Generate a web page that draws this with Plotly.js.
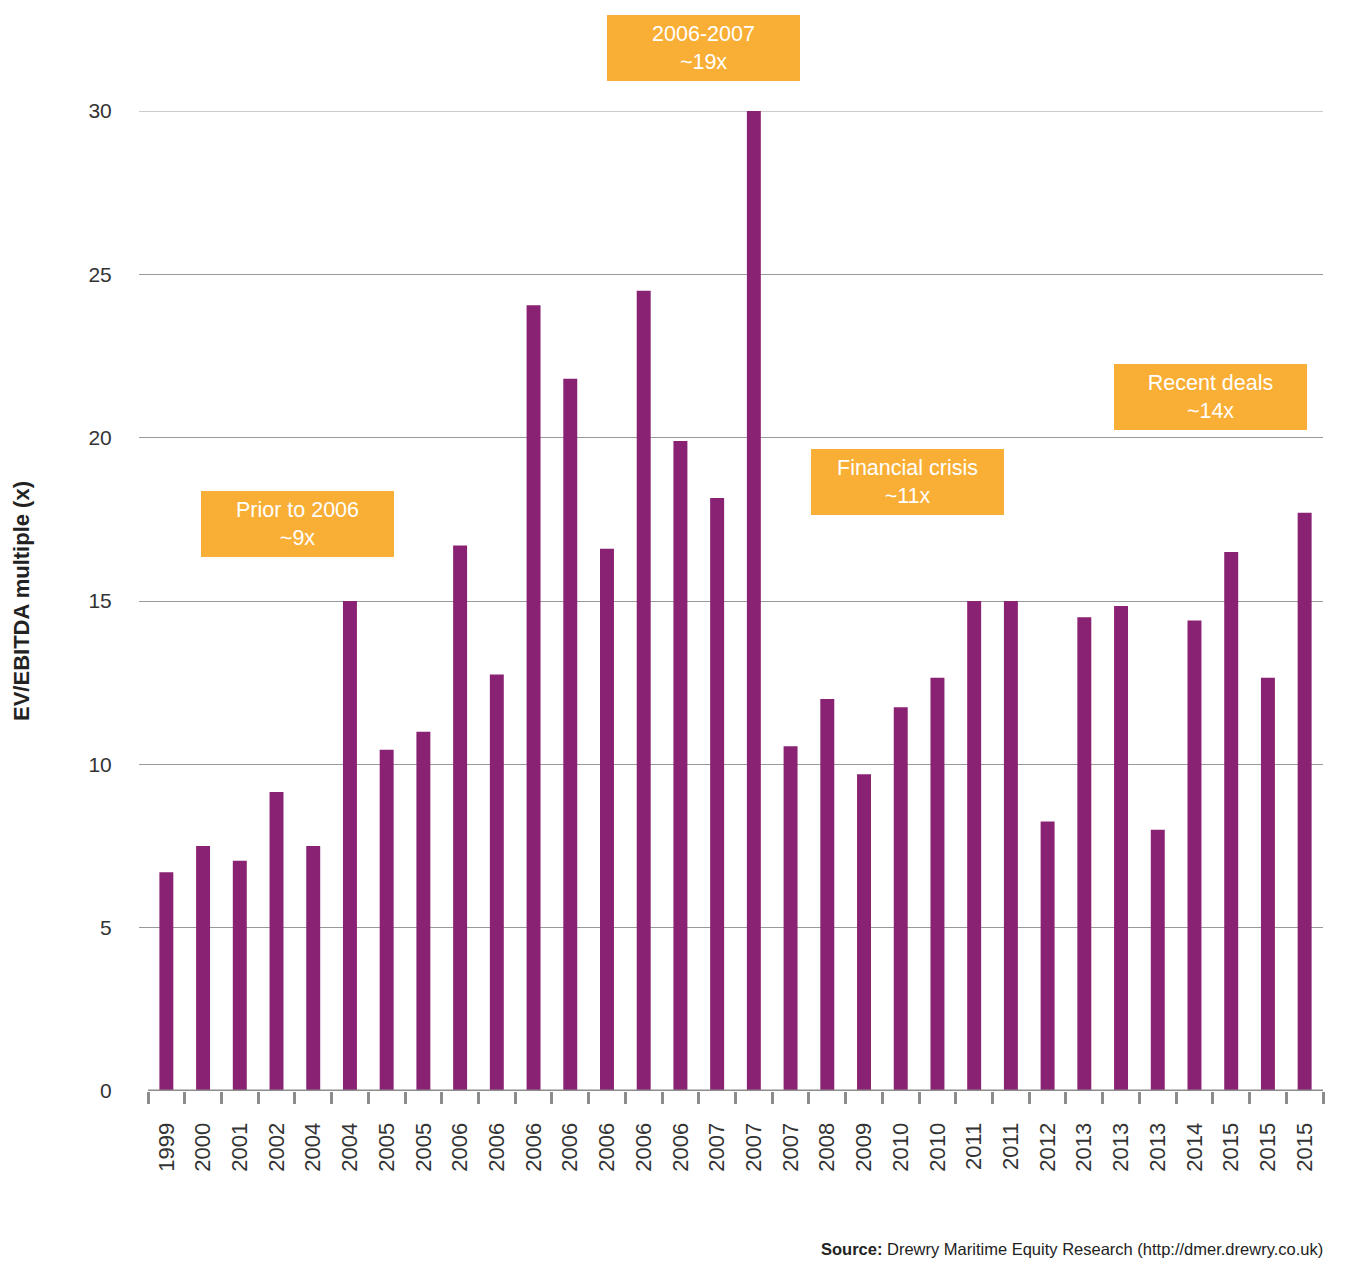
<!DOCTYPE html>
<html>
<head>
<meta charset="utf-8">
<script src="https://cdn.plot.ly/plotly-3.0.1.min.js"></script>
<style>html,body{margin:0;padding:0;background:#fff;}#chart{width:1353px;height:1266px;}</style>
</head>
<body>
<div id="chart"></div>
<script>
const yearLabels = ["1999","2000","2001","2002","2004","2004","2005","2005","2006","2006","2006","2006","2006","2006","2006","2007","2007","2007","2008","2009","2010","2010","2011","2011","2012","2013","2013","2013","2014","2015","2015","2015"];
const multiples = [6.7,7.5,7.05,9.15,7.5,15.0,10.45,11.0,16.7,12.75,24.05,21.8,16.6,24.5,19.9,18.15,30.0,10.55,12.0,9.7,11.75,12.65,15.0,15.0,8.25,14.5,14.85,8.0,14.4,16.5,12.65,17.7];
const boxTexts = ["Prior to 2006<br>~9x","2006-2007<br>~19x","Financial crisis<br>~11x","Recent deals<br>~14x"];
const yTicks = [0,5,10,15,20,25,30];

const idx = yearLabels.map((_, i) => i);
const boundaries = yearLabels.map((_, i) => i - 0.5).concat([yearLabels.length - 0.5]);
const xr = [-0.745, yearLabels.length - 0.5];
const yMax = yTicks[yTicks.length - 1];
const font = "Liberation Sans, Arial, Helvetica, sans-serif";
const orange = "#F9AE35";

const trace = {
  type: "bar",
  x: idx,
  y: multiples,
  marker: {color: "#8A2273", line: {width: 0}},
  width: 0.38,
  hoverinfo: "x+y",
  showlegend: false
};
const tickTrace = {type: "scatter", x: [xr[0]], y: [0], xaxis: "x2", mode: "markers", marker: {opacity: 0}, showlegend: false, hoverinfo: "skip"};

const boxPos = [[0.1339, 0.5786], [0.4768, 1.0643], [0.6491, 0.6219], [0.9054, 0.7082]];
const annotations = boxTexts.map((t, i) => ({
  text: t, xref: "paper", yref: "paper", x: boxPos[i][0], y: boxPos[i][1],
  xanchor: "center", yanchor: "middle", showarrow: false,
  bgcolor: orange, width: 193, height: 66, borderpad: 0, borderwidth: 0,
  font: {family: font, size: 21.5, color: "#ffffff"}, align: "center", valign: "middle"
}));
annotations.push({
  text: "<b>Source:</b> Drewry Maritime Equity Research (http://dmer.drewry.co.uk)",
  xref: "paper", yref: "paper", x: 1, y: -0.161, xanchor: "right", yanchor: "middle",
  xshift: 2, showarrow: false, font: {family: font, size: 16.5, color: "#222"}
});

const layout = {
  width: 1353, height: 1266,
  margin: {l: 139, r: 30, t: 111, b: 175},
  paper_bgcolor: "#fff", plot_bgcolor: "#fff",
  font: {family: font, color: "#333"},
  xaxis: {
    range: xr, tickmode: "array", tickvals: idx, ticktext: yearLabels,
    tickangle: -90, tickfont: {family: font, size: 22, color: "#333"},
    ticks: "outside", ticklen: 22, tickcolor: "rgba(0,0,0,0)",
    showgrid: false, zeroline: false, showline: false, fixedrange: true
  },
  xaxis2: {
    overlaying: "x", side: "bottom", range: xr, tickmode: "array", tickvals: boundaries,
    showticklabels: false, ticks: "outside", ticklen: 12, tickwidth: 3, tickcolor: "#8c8c8c",
    showgrid: false, zeroline: false, showline: false
  },
  yaxis: {
    range: [0, yMax], tickmode: "array", tickvals: yTicks,
    tickfont: {family: font, size: 21, color: "#333"},
    ticks: "outside", ticklen: 22, tickcolor: "rgba(0,0,0,0)",
    showgrid: true, gridcolor: "#999", gridwidth: 1, zeroline: false, showline: false,
    title: {text: "<b>EV/EBITDA multiple (x)</b>", font: {family: font, size: 22, color: "#222"}, standoff: 52}
  },
  shapes: [
    {type: "line", xref: "paper", yref: "y", x0: 0, x1: 1, y0: yMax, y1: yMax, layer: "below",
     line: {color: "#999", width: 1}},
    {type: "line", xref: "x", yref: "y", x0: -0.5, x1: yearLabels.length - 0.5, y0: 0, y1: 0,
     line: {color: "#8c8c8c", width: 3}}
  ],
  annotations: annotations,
  bargap: 0.62
};

Plotly.newPlot("chart", [trace, tickTrace], layout, {displayModeBar: false, staticPlot: true});
</script>
</body>
</html>
